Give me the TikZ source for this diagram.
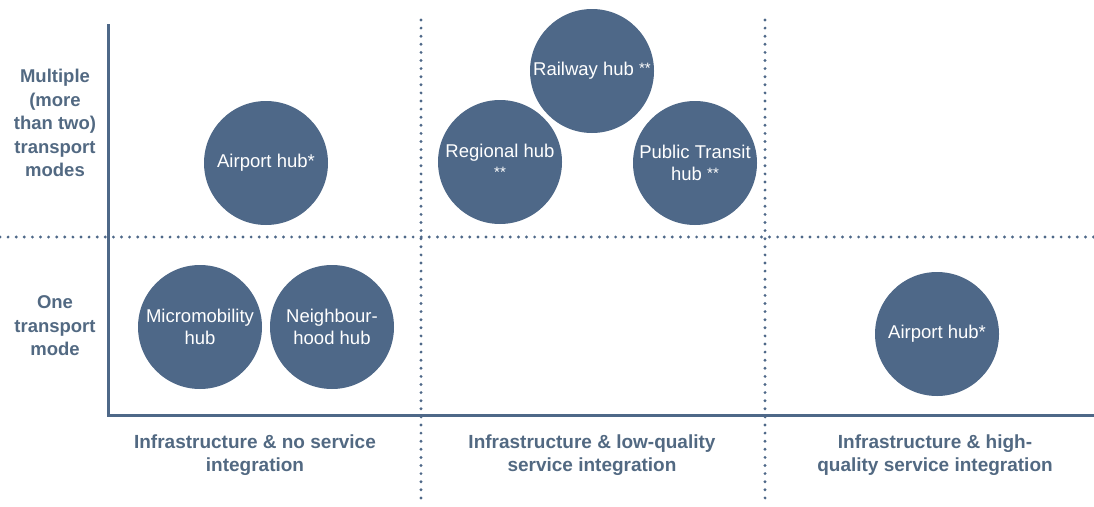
\documentclass[tikz,border=0pt]{standalone}
\usepackage{fontspec}
\setmainfont{Liberation Sans}
\definecolor{hubfill}{HTML}{4E6888}
\definecolor{labcol}{HTML}{526982}
\definecolor{axiscol}{HTML}{4E6888}
\newcommand{\smallstars}{\raisebox{2.5pt}{\fontsize{15}{22}\selectfont **}}
\begin{document}
\begin{tikzpicture}[x=1pt,y=-1pt,
  hub/.style={circle,fill=hubfill,draw=none,minimum size=124pt,inner sep=0pt,text=white,align=center,font=\fontsize{18.5}{22}\selectfont},
  ylab/.style={text=labcol,align=center,font=\bfseries\fontsize{18.5}{23.5}\selectfont},
  xlab/.style={text=labcol,align=center,font=\bfseries\fontsize{19}{23.5}\selectfont},
  dotline/.style={draw=axiscol,line width=3.2pt,line cap=round,dash pattern=on 0pt off 8.1pt},
  axisline/.style={draw=axiscol,line width=3pt}]
\useasboundingbox (0,0) rectangle (1094,506);
% coordinates
\coordinate (hL) at (0,237);
\coordinate (hR) at (1094,237);
\coordinate (v1t) at (421,20);
\coordinate (v1b) at (421,498);
\coordinate (v2t) at (765,20);
\coordinate (v2b) at (765,498);
\coordinate (ytop) at (108,24);
\coordinate (orig) at (108,415);
\coordinate (xend) at (1094,415);
% dotted grid
\draw[dotline] (hL) -- (hR);
\draw[dotline] (v1t) -- (v1b);
\draw[dotline] (v2t) -- (v2b);
% axes
\draw[axisline] (ytop) -- (orig) -- (xend);
% hubs
\node[hub] (air1) at (266,163) {Airport hub*};
\node[hub] (rail) at (592,71) {Railway hub \smallstars};
\node[hub] (reg) at (500,162) {Regional hub\\\smallstars};
\node[hub] (pt) at (695,163) {Public Transit\\hub \smallstars};
\node[hub] (micro) at (200,327) {Micromobility\\hub};
\node[hub] (neigh) at (332,327) {Neighbour-\\hood hub};
\node[hub] (air2) at (937,334) {Airport hub*};
% y labels
\node[ylab] (multi) at (55,123) {Multiple\\(more\\than two)\\transport\\modes};
\node[ylab] (one) at (55,326) {One\\transport\\mode};
% x labels
\node[xlab] (x1) at (255,455) {Infrastructure \& no service\\integration};
\node[xlab] (x2) at (592,455) {Infrastructure \& low-quality\\service integration};
\node[xlab] (x3) at (935,455) {Infrastructure \& high-\\quality service integration};
\end{tikzpicture}
\end{document}
